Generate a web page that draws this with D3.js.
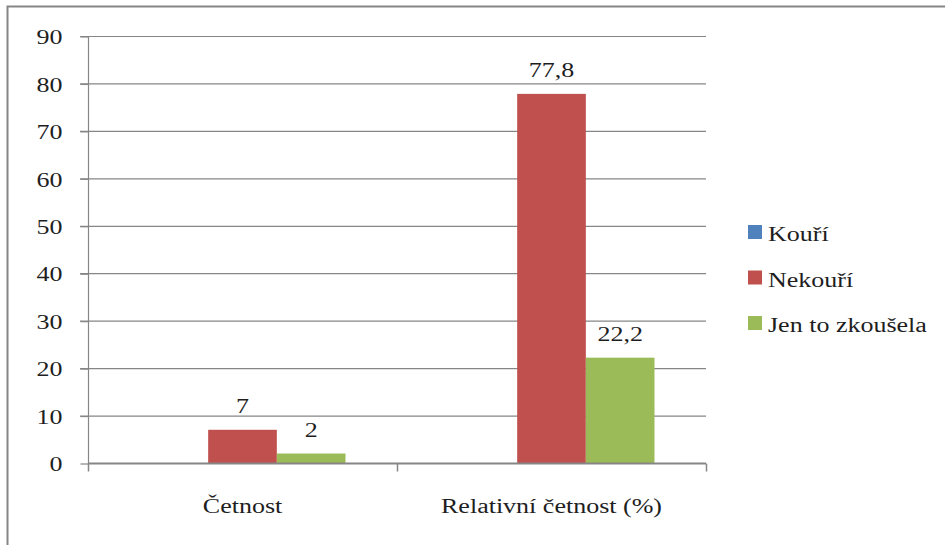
<!DOCTYPE html>
<html>
<head>
<meta charset="utf-8">
<script src="https://cdn.jsdelivr.net/npm/d3@7"></script>
<style>
  html, body { margin: 0; padding: 0; background: #fff; }
  svg { display: block; }
</style>
</head>
<body>
<svg id="chart" width="945" height="545"></svg>
<script>
// Chart data
const categories = ["Četnost", "Relativní četnost (%)"];
const seriesNames = ["Kouří", "Nekouří", "Jen to zkoušela"];
const seriesColors = ["#4F81BD", "#C0504D", "#9BBB59"];
const kouri = [0, 0];
const nekouri = [7, 77.8];
const jenZkousela = [2, 22.2];
const labelTexts = [[null, null], ["7", "77,8"], ["2", "22,2"]];
const yTicks = [0, 10, 20, 30, 40, 50, 60, 70, 80, 90];

const seriesValues = [kouri, nekouri, jenZkousela];

const svg = d3.select("#chart");
const W = 945, H = 545;
const plot = { left: 88, right: 706, top: 36, bottom: 463 };
const gridColor = "#868686";
const fontSize = 20;
const widen = 1.3;        // wide setting of the serif labels
const textColor = "#1e1e1e";

function styleText(sel) {
  sel.style("font-family", '"Liberation Serif"')
    .style("font-size", fontSize + "px")
    .style("fill", textColor)
    .each(function () {
      const len = this.getComputedTextLength();
      d3.select(this).attr("textLength", len * widen).attr("lengthAdjust", "spacingAndGlyphs");
    });
}

// Outer chart frame
svg.append("rect")
  .attr("x", 7.5).attr("y", 6.5)
  .attr("width", W + 20).attr("height", H + 20)
  .attr("fill", "none").attr("stroke", gridColor).attr("stroke-width", 2);

const x0 = d3.scaleBand().domain(categories).range([plot.left, plot.right]).paddingInner(0).paddingOuter(0);
const x1 = d3.scaleBand().domain(seriesNames).range([0, x0.bandwidth()]).paddingInner(0).paddingOuter(0.75);
const y = d3.scaleLinear().domain([0, 90]).range([plot.bottom, plot.top]);

// Horizontal gridlines (extending left as tick marks)
svg.append("g").selectAll("line").data(yTicks.filter(t => t > 0)).join("line")
  .attr("x1", plot.left - 8).attr("x2", plot.right)
  .attr("y1", d => y(d) + 0.5).attr("y2", d => y(d) + 0.5)
  .attr("stroke", gridColor).attr("stroke-width", 1.2);

// Bars
const groups = svg.append("g").selectAll("g").data(categories).join("g")
  .attr("transform", d => `translate(${x0(d)},0)`);

const rows = (c, ci) => seriesNames.map((s, si) => ({ s, si, v: seriesValues[si][ci], label: labelTexts[si][ci] }));

groups.selectAll("rect").data(rows).join("rect")
  .attr("x", d => x1(d.s))
  .attr("width", x1.bandwidth())
  .attr("y", d => y(d.v))
  .attr("height", d => y(0) - y(d.v))
  .attr("fill", d => seriesColors[d.si]);

// Value labels
groups.selectAll("text").data((c, ci) => rows(c, ci).filter(d => d.label)).join("text")
  .attr("x", d => x1(d.s) + x1.bandwidth() / 2)
  .attr("y", d => y(d.v) - 17)
  .attr("text-anchor", "middle")
  .text(d => d.label)
  .call(styleText);

// Y axis
const yAxis = d3.axisLeft(y).tickValues(yTicks).tickSize(8).tickPadding(18).tickFormat(d3.format("d"));
const gy = svg.append("g").attr("transform", `translate(${plot.left + 0.5},0.5)`).call(yAxis);
gy.selectAll("line, path").attr("stroke", gridColor).attr("stroke-width", 1.2);
gy.select(".domain").attr("d", `M-8,${plot.top}H0V${plot.bottom}`);
gy.selectAll("text").attr("dy", "0.36em").call(styleText);

// X axis
const xAxis = d3.axisBottom(x0).tickSize(0).tickPadding(35);
const gx = svg.append("g").attr("transform", `translate(0,${plot.bottom + 0.5})`).call(xAxis);
gx.select(".domain").attr("stroke", gridColor).attr("stroke-width", 2).attr("d", `M${plot.left},0H${plot.right}`);
gx.selectAll("text").call(styleText);
// Category boundary ticks
const bounds = [plot.left, plot.left + x0.bandwidth(), plot.right];
gx.append("g").selectAll("line").data(bounds).join("line")
  .attr("x1", d => d + 0.5).attr("x2", d => d + 0.5)
  .attr("y1", 0).attr("y2", 8)
  .attr("stroke", gridColor).attr("stroke-width", 1.5);

// Legend
const legend = svg.append("g").attr("transform", "translate(748,225)");
const items = legend.selectAll("g").data(seriesNames).join("g")
  .attr("transform", (d, i) => `translate(0,${i * 45.5})`);
items.append("rect").attr("width", 14).attr("height", 14).attr("fill", (d, i) => seriesColors[i]);
items.append("text").attr("x", 20).attr("y", 16).text(d => d).call(styleText);
</script>
</body>
</html>
